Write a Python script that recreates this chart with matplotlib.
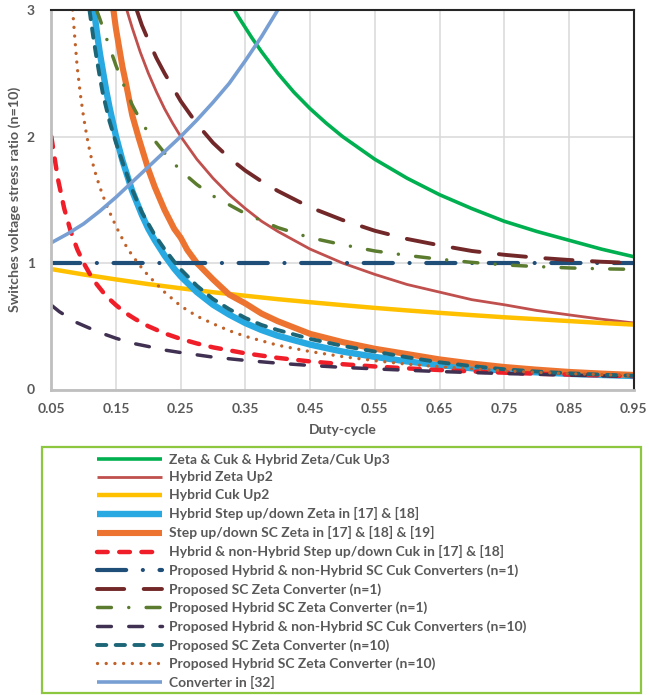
import matplotlib
matplotlib.use("Agg")
import matplotlib.pyplot as plt
from matplotlib.patches import Rectangle

plt.rcParams['font.family'] = ['Lato', 'DejaVu Sans']
plt.rcParams['font.weight'] = 'bold'

# ---------------- data ----------------
d_green = [0.333, 0.34, 0.35, 0.36, 0.375, 0.4, 0.425, 0.45, 0.475, 0.5, 0.55, 0.6, 0.65, 0.7, 0.75, 0.8, 0.85, 0.9, 0.95]
v_green = [3.0, 2.94, 2.86, 2.78, 2.67, 2.5, 2.35, 2.22, 2.105, 2.0, 1.82, 1.67, 1.54, 1.43, 1.33, 1.25, 1.18, 1.11, 1.05]

d_zup2 = [0.1667, 0.175, 0.1875, 0.2, 0.2125, 0.225, 0.2375, 0.25, 0.275, 0.3, 0.325, 0.35, 0.375, 0.4, 0.45, 0.5, 0.55, 0.6, 0.65, 0.7, 0.75, 0.8, 0.85, 0.9, 0.95]
v_zup2 = [3.0, 2.86, 2.667, 2.5, 2.353, 2.22, 2.105, 2.0, 1.82, 1.67, 1.54, 1.43, 1.33, 1.25, 1.11, 1.0, 0.91, 0.83, 0.77, 0.71, 0.67, 0.625, 0.59, 0.556, 0.526]

d_cup2 = [0.05, 0.1, 0.15, 0.2, 0.25, 0.3, 0.35, 0.4, 0.45, 0.5, 0.55, 0.6, 0.65, 0.7, 0.75, 0.8, 0.85, 0.9, 0.95]
v_cup2 = [0.952, 0.909, 0.87, 0.833, 0.8, 0.769, 0.741, 0.714, 0.69, 0.667, 0.645, 0.625, 0.606, 0.588, 0.571, 0.556, 0.541, 0.526, 0.513]

d_hzeta = [0.116, 0.12, 0.125, 0.13, 0.135, 0.14, 0.15, 0.16, 0.175, 0.19, 0.2, 0.21, 0.225, 0.24, 0.25, 0.275, 0.3, 0.325, 0.35, 0.375, 0.4, 0.45, 0.5, 0.55, 0.6, 0.65, 0.7, 0.75, 0.8, 0.85, 0.9, 0.95]
v_hzeta = [3.0, 2.84, 2.66, 2.51, 2.36, 2.23, 2.0, 1.81, 1.57, 1.38, 1.27, 1.18, 1.06, 0.955, 0.895, 0.77, 0.67, 0.592, 0.525, 0.47, 0.425, 0.355, 0.30, 0.258, 0.222, 0.192, 0.168, 0.15, 0.136, 0.124, 0.115, 0.107]

d_sczeta = [0.146, 0.15, 0.155, 0.16, 0.165, 0.175, 0.185, 0.2, 0.21, 0.225, 0.24, 0.25, 0.26, 0.275, 0.3, 0.325, 0.35, 0.375, 0.4, 0.45, 0.5, 0.55, 0.6, 0.65, 0.7, 0.75, 0.8, 0.85, 0.9, 0.95]
v_sczeta = [3.0, 2.85, 2.70, 2.55, 2.43, 2.17, 1.99, 1.74, 1.60, 1.42, 1.27, 1.20, 1.105, 1.0, 0.87, 0.75, 0.68, 0.6, 0.54, 0.44, 0.375, 0.322, 0.28, 0.238, 0.205, 0.178, 0.157, 0.139, 0.126, 0.115]

d_cuk = [0.05, 0.06, 0.07, 0.08, 0.09, 0.1, 0.11, 0.12, 0.13, 0.14, 0.15, 0.16, 0.17, 0.18, 0.2, 0.225, 0.25, 0.275, 0.3, 0.35, 0.4, 0.45, 0.5, 0.55, 0.6, 0.65, 0.7, 0.75, 0.8, 0.85, 0.9, 0.95]
v_cuk = [2.0, 1.67, 1.43, 1.25, 1.11, 1.0, 0.909, 0.833, 0.769, 0.714, 0.667, 0.625, 0.588, 0.556, 0.5, 0.444, 0.4, 0.364, 0.333, 0.286, 0.25, 0.222, 0.2, 0.182, 0.167, 0.154, 0.143, 0.133, 0.125, 0.118, 0.111, 0.105]

d_pcuk1 = [0.05, 0.1, 0.15, 0.2, 0.25, 0.3, 0.35, 0.4, 0.45, 0.5, 0.55, 0.6, 0.65, 0.7, 0.75, 0.8, 0.85, 0.9, 0.95]
v_pcuk1 = [1.0, 1.0, 1.0, 1.0, 1.0, 1.0, 1.0, 1.0, 1.0, 1.0, 1.0, 1.0, 1.0, 1.0, 1.0, 1.0, 1.0, 1.0, 1.0]

d_pzeta1 = [0.182, 0.19, 0.2, 0.2125, 0.225, 0.2375, 0.25, 0.275, 0.3, 0.325, 0.35, 0.375, 0.4, 0.45, 0.5, 0.55, 0.6, 0.65, 0.7, 0.75, 0.8, 0.85, 0.9, 0.95]
v_pzeta1 = [3.0, 2.88, 2.76, 2.62, 2.5, 2.39, 2.28, 2.1, 1.95, 1.83, 1.73, 1.645, 1.57, 1.44, 1.34, 1.255, 1.19, 1.14, 1.095, 1.065, 1.042, 1.024, 1.01, 1.0]

d_phzeta1 = [0.12, 0.125, 0.135, 0.15, 0.1625, 0.175, 0.1875, 0.2, 0.225, 0.25, 0.275, 0.3, 0.35, 0.4, 0.45, 0.5, 0.55, 0.6, 0.65, 0.7, 0.75, 0.8, 0.85, 0.9, 0.95]
v_phzeta1 = [3.0, 2.93, 2.78, 2.56, 2.40, 2.25, 2.13, 2.03, 1.87, 1.73, 1.62, 1.53, 1.39, 1.28, 1.20, 1.145, 1.095, 1.06, 1.03, 1.005, 0.985, 0.972, 0.961, 0.954, 0.95]

d_pcuk10 = [0.05, 0.0625, 0.075, 0.0875, 0.1, 0.125, 0.15, 0.175, 0.2, 0.225, 0.25, 0.3, 0.35, 0.4, 0.45, 0.5, 0.55, 0.6, 0.65, 0.7, 0.75, 0.8, 0.85, 0.9, 0.95]
v_pcuk10 = [0.667, 0.615, 0.575, 0.533, 0.505, 0.45, 0.405, 0.366, 0.34, 0.312, 0.292, 0.256, 0.23, 0.208, 0.19, 0.175, 0.163, 0.152, 0.142, 0.134, 0.126, 0.12, 0.114, 0.108, 0.103]

d_pzeta10 = [0.109, 0.115, 0.12, 0.125, 0.13, 0.14, 0.15, 0.16, 0.175, 0.19, 0.2, 0.21, 0.225, 0.24, 0.25, 0.275, 0.3, 0.325, 0.35, 0.375, 0.4, 0.45, 0.5, 0.55, 0.6, 0.65, 0.7, 0.75, 0.8, 0.85, 0.9, 0.95]
v_pzeta10 = [3.0, 2.78, 2.62, 2.47, 2.33, 2.12, 1.95, 1.80, 1.58, 1.40, 1.31, 1.22, 1.11, 1.01, 0.95, 0.82, 0.715, 0.635, 0.565, 0.51, 0.47, 0.40, 0.345, 0.30, 0.255, 0.215, 0.185, 0.16, 0.142, 0.128, 0.117, 0.109]

d_phzeta10 = [0.083, 0.086, 0.09, 0.095, 0.1, 0.105, 0.11, 0.117, 0.125, 0.135, 0.15, 0.165, 0.175, 0.19, 0.2, 0.225, 0.25, 0.275, 0.3, 0.325, 0.35, 0.4, 0.45, 0.5, 0.55, 0.6, 0.65, 0.7, 0.75, 0.8, 0.85, 0.9, 0.95]
v_phzeta10 = [3.0, 2.8, 2.55, 2.33, 2.15, 2.0, 1.87, 1.73, 1.6, 1.46, 1.29, 1.14, 1.06, 0.96, 0.9, 0.77, 0.66, 0.58, 0.52, 0.465, 0.42, 0.35, 0.3, 0.26, 0.228, 0.2, 0.18, 0.163, 0.148, 0.136, 0.126, 0.118, 0.111]

d_conv32 = [0.05, 0.075, 0.1, 0.125, 0.15, 0.175, 0.2, 0.225, 0.25, 0.275, 0.3, 0.325, 0.35, 0.375, 0.4]
v_conv32 = [1.16, 1.23, 1.31, 1.41, 1.52, 1.64, 1.76, 1.88, 2.0, 2.13, 2.27, 2.42, 2.6, 2.79, 3.0]

labels = [
    "Zeta & Cuk & Hybrid Zeta/Cuk Up3",
    "Hybrid Zeta Up2",
    "Hybrid Cuk Up2",
    "Hybrid Step up/down Zeta in [17] & [18]",
    "Step up/down SC Zeta in [17] & [18] & [19]",
    "Hybrid & non-Hybrid Step up/down Cuk in [17] & [18]",
    "Proposed Hybrid & non-Hybrid SC Cuk Converters (n=1)",
    "Proposed SC Zeta Converter (n=1)",
    "Proposed Hybrid SC Zeta Converter (n=1)",
    "Proposed Hybrid & non-Hybrid SC Cuk Converters (n=10)",
    "Proposed SC Zeta Converter (n=10)",
    "Proposed Hybrid SC Zeta Converter (n=10)",
    "Converter in [32]",
]
x_ticks = [0.05, 0.15, 0.25, 0.35, 0.45, 0.55, 0.65, 0.75, 0.85, 0.95]
x_ticklabels = ["0.05", "0.15", "0.25", "0.35", "0.45", "0.55", "0.65", "0.75", "0.85", "0.95"]
y_ticks = [0, 1, 2, 3]

# ---------------- figure ----------------
W, H = 649, 695
fig = plt.figure(figsize=(W / 100, H / 100), dpi=100)
L, R, T, B = 51.3, 633.6, 10.0, 389.5
ax = fig.add_axes([L / W, 1 - B / H, (R - L) / W, (B - T) / H])

series = [
    (d_green, v_green, dict(color='#00B050', lw=2.6)),
    (d_zup2, v_zup2, dict(color='#C0504D', lw=2.0)),
    (d_cup2, v_cup2, dict(color='#FFC000', lw=3.2)),
    (d_hzeta, v_hzeta, dict(color='#29A9E1', lw=4.6)),
    (d_sczeta, v_sczeta, dict(color='#EC7430', lw=4.4)),
    (d_cuk, v_cuk, dict(color='#F01E28', lw=3.2, dashes=(2.4, 2.6), dash_capstyle='round')),
    (d_pcuk1, v_pcuk1, dict(color='#1F4E79', lw=3.0, dashes=(7.0, 4.0, 0.01, 4.0), dash_capstyle='round')),
    (d_pzeta1, v_pzeta1, dict(color='#722828', lw=2.8, dashes=(7.0, 5.0), dash_capstyle='round')),
    (d_phzeta1, v_phzeta1, dict(color='#5B7B2F', lw=2.5, dashes=(4.0, 5.0, 0.01, 5.0), dash_capstyle='round')),
    (d_pcuk10, v_pcuk10, dict(color='#403152', lw=2.5, dashes=(4.0, 5.0), dash_capstyle='round')),
    (d_pzeta10, v_pzeta10, dict(color='#1D6678', lw=2.8, dashes=(2.4, 2.4), dash_capstyle='round')),
    (d_phzeta10, v_phzeta10, dict(color='#C0622A', lw=2.4, dashes=(0.01, 2.6), dash_capstyle='round')),
    (d_conv32, v_conv32, dict(color='#789FD3', lw=2.6)),
]

handles = []
for (d, v, st), lab in zip(series, labels):
    ln, = ax.plot(d, v, label=lab, solid_capstyle='butt', solid_joinstyle='round', **st)
    handles.append(ln)

ax.set_xlim(0.05, 0.95)
ax.set_ylim(0, 3)
ax.set_xticks(x_ticks)
ax.set_xticklabels(x_ticklabels)
ax.set_yticks(y_ticks)
ax.tick_params(length=0, labelsize=10, labelcolor='#595959')
ax.tick_params(axis='x', pad=10)
ax.tick_params(axis='y', pad=12)
for lab in ax.get_xticklabels() + ax.get_yticklabels():
    lab.set_fontweight('bold')

ax.grid(True, color='#D9D9D9', lw=1.1)
ax.set_axisbelow(True)
for s in ['top', 'right']:
    ax.spines[s].set_color('#262626')
    ax.spines[s].set_linewidth(1.5)
for s in ['left', 'bottom']:
    ax.spines[s].set_color('#BFBFBF')
    ax.spines[s].set_linewidth(2.0)

ax.set_xlabel("Duty-cycle", fontsize=10, fontweight='bold', color='#595959', labelpad=6)
ax.set_ylabel("Switches voltage stress ratio (n=10)", fontsize=10.3, fontweight='bold',
              color='#595959', labelpad=4)

# legend box
fig.patches.append(Rectangle((42 / W, 1 - 693 / H), 599 / W, 246 / H, transform=fig.transFigure,
                             fill=False, edgecolor='#8DC63F', lw=1.6))
fig.legend(handles=handles, labels=labels, loc='upper left',
           bbox_to_anchor=(96.7 / W, 1 - 453.5 / H), frameon=False,
           prop=dict(family=['Lato', 'DejaVu Sans'], weight='bold', size=10),
           labelcolor='#595959', handlelength=4.7, handletextpad=0.48,
           labelspacing=0.43, borderpad=0, borderaxespad=0)

fig.savefig("out.png", dpi=100)
